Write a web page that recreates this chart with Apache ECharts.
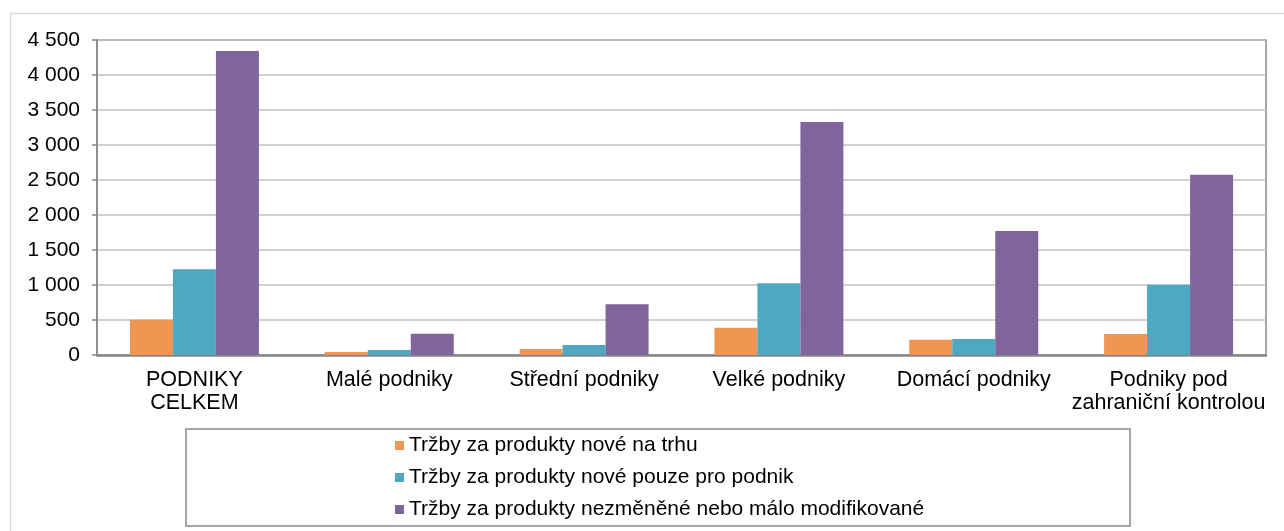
<!DOCTYPE html>
<html>
<head>
<meta charset="utf-8">
<script src="https://cdn.jsdelivr.net/npm/echarts@6/dist/echarts.min.js"></script>
<style>
html,body{margin:0;padding:0;background:#fff;}
#chart{width:1284px;height:531px;}
</style>
</head>
<body>
<div id="chart"></div>
<script>
const categories = ["PODNIKY\nCELKEM", "Malé podniky", "Střední podniky", "Velké podniky", "Domácí podniky", "Podniky pod\nzahraniční kontrolou"];
const seriesNames = ["Tržby za produkty nové na trhu", "Tržby za produkty nové pouze pro podnik", "Tržby za produkty nezměněné nebo málo modifikované"];
const newToMarket = [505, 43, 86, 390, 219, 300];
const newToFirm = [1224, 71, 143, 1024, 229, 1005];
const unchanged = [4343, 305, 724, 3329, 1771, 2576];
const yTicks = { min: 0, max: 4500, interval: 500 };

const colors = ["#ef9752", "#4fa8c1", "#80659d"];
const font = "'Liberation Sans', Arial, sans-serif";

const chart = echarts.init(document.getElementById('chart'), null, { renderer: 'canvas' });
const makeSeries = (name, data, color) => ({
  name, type: 'bar', data, barWidth: 43, barGap: '0%',
  itemStyle: { color }, emphasis: { disabled: true }
});
chart.setOption({
  animation: false,
  color: colors,
  textStyle: { fontFamily: font },
  graphic: [
    { type: 'rect', z: -10, shape: { x: 10.5, y: 13.5, width: 1400, height: 700 }, style: { fill: 'none', stroke: '#d9d9d9', lineWidth: 1.5 } },
    { type: 'rect', z: -5, shape: { x: 186, y: 429, width: 944, height: 97 }, style: { fill: '#fff', stroke: '#a6a6a6', lineWidth: 2 } }
  ],
  grid: { left: 97, top: 40, width: 1169, height: 315, show: true, borderColor: '#898989', borderWidth: 1.5, containLabel: false },
  legend: {
    orient: 'vertical', left: 395, top: 435, padding: 0, itemWidth: 9, itemHeight: 9, itemGap: 11,
    icon: 'rect', selectedMode: false,
    textStyle: { fontFamily: font, fontSize: 21, color: '#000', lineHeight: 21 },
    data: seriesNames
  },
  xAxis: {
    type: 'category', data: categories,
    axisLine: { lineStyle: { color: '#868686', width: 2.5 } },
    axisTick: { show: false },
    axisLabel: { fontFamily: font, fontSize: 21.5, color: '#000', lineHeight: 23, margin: 14, interval: 0 }
  },
  yAxis: {
    type: 'value', min: yTicks.min, max: yTicks.max, interval: yTicks.interval,
    axisLine: { show: true, lineStyle: { color: '#868686', width: 1.5 } },
    axisTick: { show: true, length: 5, lineStyle: { color: '#868686', width: 1.5 } },
    splitLine: { lineStyle: { color: '#c0c0c0', width: 1.5 } },
    axisLabel: {
      fontFamily: font, fontSize: 21, color: '#000', margin: 17,
      formatter: v => String(v).replace(/\B(?=(\d{3})+(?!\d))/g, ' ')
    }
  },
  series: [
    makeSeries(seriesNames[0], newToMarket, colors[0]),
    makeSeries(seriesNames[1], newToFirm, colors[1]),
    makeSeries(seriesNames[2], unchanged, colors[2])
  ]
});
</script>
</body>
</html>
